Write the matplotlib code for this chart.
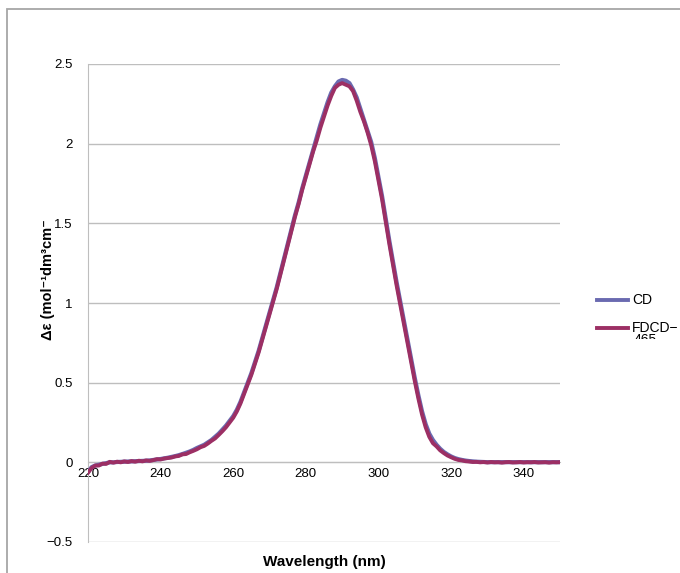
import numpy as np
import matplotlib
matplotlib.use("Agg")
from matplotlib import pyplot as plt
from matplotlib.lines import Line2D
from matplotlib.patches import Rectangle
from matplotlib.transforms import Bbox

# wavelength grid (nm) and the two spectra
wavelength = list(range(220, 351))
cd = [-0.06, -0.03, -0.02, -0.015, -0.01, -0.005, 0.0, 0.0, 0.002, 0.003,
      0.004, 0.005, 0.006, 0.007, 0.008, 0.009, 0.01, 0.012, 0.015, 0.018,
      0.021, 0.025, 0.029, 0.034, 0.039, 0.045, 0.052, 0.06, 0.068, 0.078,
      0.09, 0.10, 0.11, 0.125, 0.14, 0.16, 0.18, 0.205, 0.23, 0.26,
      0.29, 0.33, 0.38, 0.44, 0.50, 0.56, 0.63, 0.70, 0.78, 0.86,
      0.94, 1.02, 1.10, 1.19, 1.28, 1.37, 1.46, 1.55, 1.63, 1.72,
      1.80, 1.88, 1.96, 2.04, 2.12, 2.19, 2.26, 2.32, 2.36, 2.39,
      2.40, 2.395, 2.38, 2.34, 2.29, 2.22, 2.15, 2.08, 2.01, 1.91,
      1.79, 1.67, 1.53, 1.39, 1.26, 1.13, 1.01, 0.89, 0.77, 0.65,
      0.53, 0.42, 0.32, 0.24, 0.18, 0.14, 0.11, 0.085, 0.065, 0.05,
      0.037, 0.027, 0.02, 0.015, 0.011, 0.008, 0.006, 0.004, 0.003, 0.002,
      0.001, 0.001, 0.001, 0.001, 0.001, 0.001, 0.001, 0.001, 0.001, 0.001,
      0.001, 0.001, 0.001, 0.001, 0.001, 0.001, 0.001, 0.001, 0.001, 0.001,
      0.001]
fdcd = [-0.065, -0.035, -0.02, -0.02, -0.008, -0.01, 0.003, -0.002, 0.004, 0.0,
        0.006, 0.002, 0.008, 0.004, 0.01, 0.006, 0.012, 0.009, 0.014, 0.02,
        0.018, 0.024, 0.027, 0.03, 0.037, 0.04, 0.05, 0.052, 0.063, 0.072,
        0.082, 0.095, 0.103, 0.118, 0.135, 0.15, 0.172, 0.195, 0.22, 0.25,
        0.28, 0.32, 0.37, 0.43, 0.49, 0.55, 0.62, 0.69, 0.77, 0.85,
        0.93, 1.01, 1.09, 1.18, 1.27, 1.36, 1.45, 1.54, 1.62, 1.71,
        1.79, 1.87, 1.95, 2.02, 2.10, 2.17, 2.24, 2.30, 2.35, 2.37,
        2.38, 2.37, 2.36, 2.33, 2.27, 2.20, 2.14, 2.07, 1.99, 1.89,
        1.77, 1.65, 1.51, 1.37, 1.24, 1.11, 0.99, 0.87, 0.75, 0.63,
        0.51, 0.40, 0.30, 0.22, 0.16, 0.12, 0.10, 0.075, 0.058, 0.043,
        0.032, 0.022, 0.015, 0.012, 0.007, 0.005, 0.002, 0.003, 0.0, 0.002,
        -0.001, 0.002, 0.0, 0.001, -0.002, 0.001, 0.002, -0.001, 0.0, 0.002,
        -0.001, 0.001, 0.0, 0.002, -0.001, 0.0, 0.001, -0.002, 0.001, 0.0,
        0.001]
xticks = [220, 240, 260, 280, 300, 320, 340]
yticks = [-0.5, 0, 0.5, 1, 1.5, 2, 2.5]
ytick_labels = ["\u22120.5", "0", "0.5", "1", "1.5", "2", "2.5"]
series_names = ["CD", "FDCD\u2212"]

cd_col = "#6A6AB0"
fd_col = "#9C2F64"
grid_col = "#BEBEBE"

plt.rcParams['font.family'] = ['Liberation Sans', 'DejaVu Sans']

W, H = 680, 573
fig = plt.figure(figsize=(W / 100, H / 100), dpi=100)

# outer chart frame (runs off the right/bottom edges)
fig.add_artist(Rectangle((7 / W, -0.2), 2, 1.2 - 9 / H, transform=fig.transFigure,
                         fill=False, ec="#A6A6A6", lw=1.3))

ax = fig.add_axes([88 / W, 1 - 542 / H, (560 - 88) / W, (542 - 64) / H])
ax.set_xlim(220, 350)
ax.set_ylim(-0.5, 2.5)
for y in yticks:
    ax.axhline(y, color=grid_col, lw=1.0, zorder=0)

ax.plot(wavelength, cd, color=cd_col, lw=3.0, zorder=3)
ax.plot(wavelength, fdcd, color=fd_col, lw=2.8, zorder=4)

for s in ["top", "right"]:
    ax.spines[s].set_visible(False)
ax.spines["left"].set_color(grid_col)
ax.spines["bottom"].set_position(("data", 0))
ax.spines["bottom"].set_color(grid_col)

ax.set_xticks(xticks)
ax.set_yticks(yticks)
ax.set_yticklabels(ytick_labels)
ax.tick_params(axis="both", length=0, labelsize=9.5, colors="black")
ax.tick_params(axis="x", pad=4)
ax.tick_params(axis="y", pad=11)

ax.set_xlabel("Wavelength (nm)", fontsize=11, fontweight="bold", labelpad=0)
ax.xaxis.set_label_coords(0.5, -0.028)

fig.text(48 / W, 1 - 280 / H, "\u0394\u03b5 (mol\u207b\u00b9dm\u00b3cm\u207b",
         rotation=90, ha="center", va="center", fontsize=10.5, fontweight="bold")

# legend drawn by hand (second label line clipped as in the original)
for yy, col, name in [(300, cd_col, series_names[0]), (328, fd_col, series_names[1])]:
    fig.add_artist(Line2D([597 / W, 628 / W], [1 - yy / H, 1 - yy / H],
                          transform=fig.transFigure, color=col, lw=2.8))
    fig.text(632 / W, 1 - yy / H, name, ha="left", va="center", fontsize=10)
t = fig.text(634 / W, 1 - 340 / H, "465", ha="left", va="center", fontsize=10)
t.set_clip_box(Bbox.from_extents(600, H - 339, 680, H))
t.set_clip_on(True)

fig.savefig("out.png", dpi=100)
